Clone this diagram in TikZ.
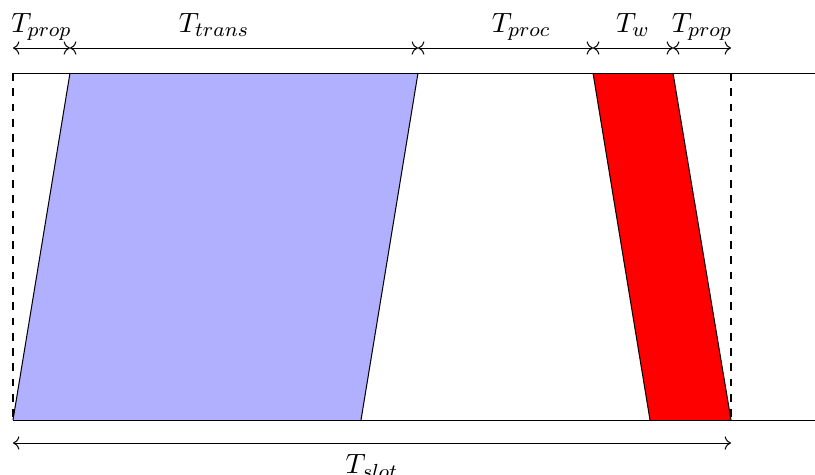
\documentclass[tikz,border=0pt]{standalone}
\usepackage{amsmath,amssymb}
\usepackage{tikz}
\usetikzlibrary{arrows.meta,calc,positioning}
\definecolor{SlotBlue}{RGB}{176,176,255}

\begin{document}
\begin{tikzpicture}[x=0.0138cm,y=-0.0138cm,font=\fontsize{11}{13}\selectfont,
    span/.style={<->},
    lbl/.style={anchor=base,inner sep=0pt,yshift=6pt},
    lblb/.style={anchor=base,inner sep=0pt,yshift=-12pt}]
      \useasboundingbox (0,0) rectangle (815,474);
      % marks along the top and bottom
      \coordinate (a0) at (13,48);  \coordinate (a1) at (70,48);  \coordinate (a2) at (418,48);
      \coordinate (a3) at (593,48); \coordinate (a4) at (673,48); \coordinate (a5) at (731,48);
      \coordinate (t0) at (13,73);  \coordinate (t1) at (70,73);  \coordinate (t2) at (418,73);
      \coordinate (t3) at (593,73); \coordinate (t4) at (673,73); \coordinate (t5) at (731,73);
      \coordinate (tr) at (815,73);
      \coordinate (b0) at (13,420); \coordinate (b1) at (361,420); \coordinate (b2) at (650,420);
      \coordinate (b5) at (731,420); \coordinate (br) at (815,420);
      \coordinate (s0) at (13,443); \coordinate (s1) at (731,443);
      % frames
      \fill[SlotBlue] (b0) -- (t1) -- (t2) -- (b1) -- cycle;
      \draw (b0) -- (t1) (t2) -- (b1);
      \fill[red] (t3) -- (t4) -- (b5) -- (b2) -- cycle;
      \draw (t3) -- (b2) (t4) -- (b5);
      \draw (t0) -- (tr) (b0) -- (br);
      \draw[dashed] (t0) -- (b0) (t5) -- (b5);
      % durations
      \draw[span] (a0) -- node[lbl]{$T_{prop}$} (a1);
      \draw[span] (a1) -- node[lbl,pos=0.414]{$T_{trans}$} (a2);
      \draw[span] (a2) -- node[lbl,pos=0.59]{$T_{proc}$} (a3);
      \draw[span] (a3) -- node[lbl]{$T_w$} (a4);
      \draw[span] (a4) -- node[lbl]{$T_{prop}$} (a5);
      \draw[span] (s0) -- node[lblb]{$T_{slot}$} (s1);
    \end{tikzpicture}
\end{document}
